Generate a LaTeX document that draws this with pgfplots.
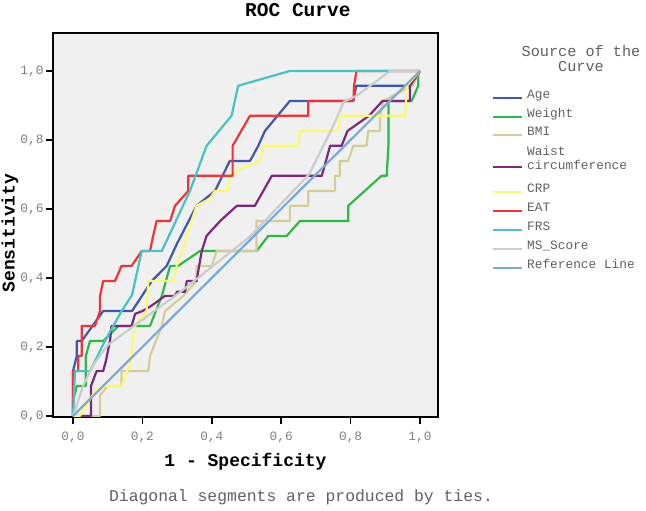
\documentclass[border=0pt]{standalone}
\usepackage{pgfplots}
\pgfplotsset{compat=1.18}
\usepackage{fontspec}
\setmainfont{Liberation Mono}
\definecolor{bggray}{HTML}{F0F0F0}
\definecolor{tickgray}{HTML}{808080}
\definecolor{legendgray}{HTML}{606060}
\definecolor{agec}{HTML}{3E58AC}
\definecolor{weightc}{HTML}{2EB848}
\definecolor{bmic}{HTML}{D3CE97}
\definecolor{waistc}{HTML}{7C287D}
\definecolor{crpc}{HTML}{FBF873}
\definecolor{eatc}{HTML}{EF3338}
\definecolor{frsc}{HTML}{48C2C5}
\definecolor{msc}{HTML}{CCCCCC}
\definecolor{refc}{HTML}{7AAAD5}
\begin{document}
\begin{tikzpicture}
\path[use as bounding box] (0bp,0bp) rectangle (646bp,511bp);
\begin{axis}[
  at={(53bp,94bp)}, anchor=south west, scale only axis,
  width=385bp, height=384bp,
  xmin=-0.0576, xmax=1.0519, ymin=-0.003, ymax=1.110,
  axis background/.style={fill=bggray},
  axis line style={black, line width=1.6bp},
  xtick={0,0.2,0.4,0.6,0.8,1.0}, ytick={0,0.2,0.4,0.6,0.8,1.0},
  tick align=outside, xtick pos=bottom, ytick pos=left,
  major tick length=7bp,
  tick style={black, line width=1.6bp},
  ticklabel style={font=\fontsize{12.8bp}{14bp}\selectfont, text=tickgray},
  xticklabel style={yshift=-4bp},
  yticklabel style={xshift=1bp},
  /pgf/number format/fixed, /pgf/number format/fixed zerofill,
  /pgf/number format/precision=1, /pgf/number format/use comma,
  /pgf/number format/assume math mode=true,
  title={ROC Curve}, every axis title shift=0pt,
  title style={at={(axis description cs:0.636,1.06)}, anchor=center, font=\bfseries\fontsize{19.5bp}{22bp}\selectfont},
  xlabel={1 - Specificity},
  xlabel style={at={(axis description cs:0.5,-0.117)}, anchor=center, font=\bfseries\fontsize{18bp}{20bp}\selectfont},
  ylabel={Sensitivity},
  ylabel style={at={(axis description cs:-0.112,0.479)}, anchor=center, font=\bfseries\fontsize{18bp}{20bp}\selectfont},
  every axis plot/.append style={line width=2.2bp, line join=round},
]
% Age
\addplot[agec] coordinates {(0,0)(0,0.13)(0.011,0.174)(0.011,0.217)(0.025,0.217)(0.087,0.304)(0.17,0.304)(0.227,0.391)(0.27,0.435)(0.30,0.50)(0.356,0.609)(0.409,0.652)(0.452,0.739)(0.51,0.739)(0.534,0.783)(0.553,0.826)(0.625,0.913)(0.808,0.913)(0.816,0.957)(0.976,0.957)(1,1)};
% Weight
\addplot[weightc] coordinates {(0,0)(0,0.043)(0.011,0.087)(0.037,0.087)(0.037,0.174)(0.049,0.217)(0.087,0.217)(0.131,0.261)(0.222,0.261)(0.256,0.348)(0.28,0.435)(0.303,0.435)(0.366,0.478)(0.529,0.478)(0.563,0.522)(0.616,0.522)(0.654,0.565)(0.793,0.565)(0.793,0.609)(0.889,0.696)(0.904,0.696)(0.909,0.783)(0.909,0.913)(0.976,0.913)(0.995,0.957)(0.995,1)(1,1)};
% BMI
\addplot[bmic] coordinates {(0,0)(0.078,0)(0.078,0.06)(0.10,0.087)(0.14,0.087)(0.14,0.13)(0.217,0.13)(0.222,0.174)(0.256,0.261)(0.265,0.304)(0.318,0.348)(0.356,0.391)(0.356,0.435)(0.40,0.435)(0.414,0.478)(0.529,0.478)(0.529,0.565)(0.625,0.565)(0.625,0.609)(0.678,0.609)(0.678,0.652)(0.755,0.652)(0.755,0.696)(0.769,0.696)(0.769,0.739)(0.793,0.739)(0.808,0.783)(0.846,0.783)(0.851,0.826)(0.885,0.826)(0.885,0.87)(0.894,0.913)(0.976,0.957)(1,1)};
% Waist circumference
\addplot[waistc] coordinates {(0,0)(0.052,0)(0.052,0.087)(0.068,0.13)(0.087,0.13)(0.095,0.16)(0.107,0.22)(0.111,0.261)(0.169,0.261)(0.179,0.296)(0.2,0.304)(0.227,0.32)(0.265,0.348)(0.294,0.348)(0.30,0.36)(0.323,0.36)(0.328,0.391)(0.356,0.391)(0.371,0.478)(0.385,0.522)(0.424,0.565)(0.472,0.609)(0.524,0.609)(0.573,0.696)(0.717,0.696)(0.741,0.783)(0.774,0.783)(0.791,0.826)(0.853,0.87)(0.892,0.913)(0.971,0.913)(0.971,0.957)(1,1)};
% CRP
\addplot[crpc] coordinates {(0,0)(0.02,0)(0.059,0.065)(0.087,0.087)(0.14,0.087)(0.164,0.152)(0.179,0.26)(0.212,0.304)(0.217,0.391)(0.289,0.391)(0.299,0.435)(0.323,0.5)(0.328,0.522)(0.356,0.609)(0.395,0.63)(0.409,0.652)(0.448,0.652)(0.452,0.696)(0.486,0.717)(0.539,0.739)(0.548,0.783)(0.649,0.783)(0.654,0.826)(0.765,0.826)(0.769,0.87)(0.957,0.87)(0.962,0.957)(1,1)};
% EAT
\addplot[eatc] coordinates {(0,0)(0,0.13)(0.015,0.13)(0.015,0.174)(0.025,0.174)(0.025,0.261)(0.063,0.261)(0.078,0.304)(0.078,0.348)(0.087,0.391)(0.121,0.391)(0.14,0.435)(0.169,0.435)(0.198,0.478)(0.222,0.478)(0.231,0.522)(0.241,0.565)(0.28,0.565)(0.294,0.609)(0.332,0.652)(0.332,0.696)(0.46,0.696)(0.46,0.783)(0.51,0.87)(0.678,0.87)(0.678,0.913)(0.808,0.913)(0.81,0.957)(0.817,1)(1,1)};
% FRS
\addplot[frsc] coordinates {(0,0)(0.006,0.13)(0.049,0.13)(0.092,0.217)(0.14,0.304)(0.17,0.35)(0.198,0.478)(0.256,0.478)(0.337,0.652)(0.385,0.783)(0.457,0.87)(0.476,0.957)(0.625,1)(1,1)};
% MS_Score
\addplot[msc] coordinates {(0,0)(0.03,0.09)(0.06,0.15)(0.10,0.205)(0.31,0.36)(0.51,0.52)(0.68,0.70)(0.745,0.83)(0.78,0.91)(0.82,0.93)(0.914,1.0)(1,1)};
% Reference line
\addplot[refc] coordinates {(0,0)(1,1)};
\end{axis}
% legend
\node[inner sep=0pt, font=\fontsize{15.2bp}{15bp}\selectfont, text=legendgray] at (581bp,460bp) {Source of the};
\node[inner sep=0pt, font=\fontsize{15.2bp}{15bp}\selectfont, text=legendgray] at (581bp,445bp) {Curve};
\foreach \c/\y/\t in {agec/95/Age, weightc/114/Weight, bmic/132/BMI, crpc/189/CRP, eatc/208/EAT, frsc/227/FRS, msc/246/MS\_Score, refc/265/Reference Line}{
  \draw[\c, line width=2.2bp] (493bp,{(508-\y)*1bp}) -- (522bp,{(508-\y)*1bp});
  \node[anchor=base west, inner sep=0pt, font=\fontsize{12.8bp}{13bp}\selectfont, text=legendgray] at (527bp,{(507.5-\y)*1bp}) {\t};
}
\draw[waistc, line width=2.2bp] (493bp,{(508-164)*1bp}) -- (522bp,{(508-164)*1bp});
\node[anchor=base west, inner sep=0pt, font=\fontsize{12.8bp}{13bp}\selectfont, text=legendgray] at (527bp,{(507.5-152)*1bp}) {Waist};
\node[anchor=base west, inner sep=0pt, font=\fontsize{12.8bp}{13bp}\selectfont, text=legendgray] at (527bp,{(507.5-166)*1bp}) {circumference};
\node[font=\fontsize{16.4bp}{18bp}\selectfont, text=legendgray] at (301bp,14bp) {Diagonal segments are produced by ties.};
\end{tikzpicture}
\end{document}
